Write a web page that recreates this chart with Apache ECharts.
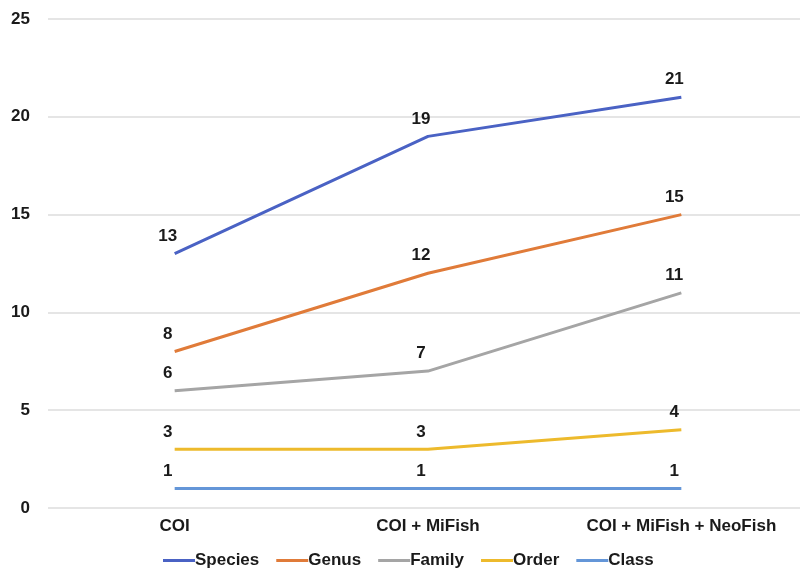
<!DOCTYPE html>
<html>
<head>
<meta charset="utf-8">
<script src="https://cdn.jsdelivr.net/npm/echarts@6/dist/echarts.min.js"></script>
<style>
  html, body { margin: 0; padding: 0; background: #fff; }
  #chart { width: 800px; height: 570px; }
</style>
</head>
<body>
<div id="chart"></div>
<script>
// Marker combinations and taxa counts detected at each rank
const categories = ['COI', 'COI + MiFish', 'COI + MiFish + NeoFish'];
const species = [13, 19, 21];
const genus = [8, 12, 15];
const family = [6, 7, 11];
const order = [3, 3, 4];
const classRank = [1, 1, 1];
const yTicks = [0, 5, 10, 15, 20, 25];

const font = 'Liberation Sans, Arial, sans-serif';
const textColor = '#1a1a1a';

function line(name, data, color) {
  return {
    name: name,
    type: 'line',
    data: data,
    symbol: 'circle',
    symbolSize: 0,
    lineStyle: { color: color, width: 3 },
    itemStyle: { color: color },
    label: {
      show: true,
      position: 'top',
      distance: 9,
      offset: [-7, 0],
      color: textColor,
      fontFamily: font,
      fontWeight: 'bold',
      fontSize: 17
    },
    emphasis: { disabled: true }
  };
}

const chart = echarts.init(document.getElementById('chart'));
chart.setOption({
  animation: false,
  grid: { left: 48, top: 19, width: 760, height: 489, containLabel: false, outerBoundsMode: 'none' },
  xAxis: {
    type: 'category',
    data: categories,
    boundaryGap: true,
    axisLine: { show: false },
    axisTick: { show: false },
    axisLabel: {
      margin: 10,
      color: textColor,
      fontFamily: font,
      fontWeight: 'bold',
      fontSize: 17
    }
  },
  yAxis: {
    type: 'value',
    min: yTicks[0],
    max: yTicks[yTicks.length - 1],
    interval: 5,
    axisLine: { show: false },
    axisTick: { show: false },
    splitLine: { lineStyle: { color: '#dcdcdc', width: 1.5 } },
    axisLabel: {
      margin: 18,
      color: textColor,
      fontFamily: font,
      fontWeight: 'bold',
      fontSize: 17
    }
  },
  legend: {
    top: 547,
    left: 158,
    icon: 'rect',
    itemWidth: 32,
    itemHeight: 3,
    itemGap: 17,
    textStyle: {
      color: textColor,
      fontFamily: font,
      fontWeight: 'bold',
      fontSize: 17,
      padding: [0, 0, 0, -5]
    }
  },
  series: [
    line('Species', species, '#4A62C4'),
    line('Genus', genus, '#E07B39'),
    line('Family', family, '#A5A5A5'),
    line('Order', order, '#EDBA2C'),
    line('Class', classRank, '#6496D8')
  ]
});
</script>
</body>
</html>
